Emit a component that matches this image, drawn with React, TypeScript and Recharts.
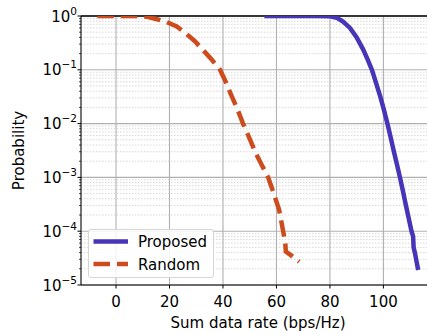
import React from 'react';
import { LineChart, Line, XAxis, YAxis, CartesianGrid, ReferenceLine, Label } from 'recharts';

// Sum data rate (bps/Hz) and CCDF probability
const proposedRate = [55.5, 75, 80, 82.5, 85, 87.5, 90, 92.4, 94, 95.7, 97.3, 98.8, 100.2, 101.5, 102.7, 103.8, 105, 106.2, 107.3, 108.3, 109.4, 110.5, 111.1, 111.3, 111.8, 113];
const proposedProb = [1, 1, 0.99, 0.93, 0.78, 0.6, 0.4, 0.24, 0.16, 0.1, 0.056, 0.032, 0.018, 0.01, 0.0056, 0.0032, 0.0018, 0.001, 0.00056, 0.00032, 0.00018, 0.0001, 0.00008, 0.00005, 0.000039, 0.000019];

const randomRate = [-7, 8, 12, 15, 19, 22.7, 26, 29.5, 33, 36, 38.9, 41, 43.3, 45.5, 47.5, 50, 52.3, 54.5, 56.9, 59, 61, 62.5, 63.3, 63.5, 66, 68.5];
const randomProb = [1, 1, 0.96, 0.88, 0.77, 0.64, 0.48, 0.34, 0.22, 0.15, 0.1, 0.06, 0.032, 0.018, 0.01, 0.0052, 0.0028, 0.0017, 0.001, 0.0005, 0.00025, 0.0001, 0.00006, 0.000042, 0.000034, 0.000027];

const xTicks = [0, 20, 40, 60, 80, 100];
const yMajor = [1e-5, 1e-4, 1e-3, 1e-2, 1e-1, 1];
const yMinor = [-5, -4, -3, -2, -1].flatMap((e) => [2, 3, 4, 5, 6, 7, 8, 9].map((m) => m * Math.pow(10, e)));

const proposedData = proposedRate.map((r, i) => ({ rate: r, p: proposedProb[i] }));
const randomData = randomRate.map((r, i) => ({ rate: r, p: randomProb[i] }));

const FONT = '"DejaVu Sans", sans-serif';
const FS = 15;
const PURPLE = '#4634b9';
const ORANGE = '#cc4c1d';

const YTick = ({ x, y, payload }: any) => {
  const v = payload.value as number;
  const lg = Math.log10(v);
  const exp = Math.round(lg);
  const major = Math.abs(lg - exp) < 1e-6;
  return (
    <g>
      <line x1={x} x2={x - (major ? 3.5 : 2)} y1={y} y2={y} stroke="#000" strokeWidth={major ? 1 : 0.7} />
      {major && (
        <text x={x - 4} y={y + 5.5} textAnchor="end" fontSize={FS} fontFamily={FONT} fill="#000">
          <tspan>10</tspan>
          <tspan dy={-7} fontSize={10.5}>{exp === 0 ? '0' : '\u2212' + Math.abs(exp)}</tspan>
        </text>
      )}
    </g>
  );
};

export default function App() {
  return (
    <div style={{ position: 'absolute', left: 0, top: 0, width: 427, height: 334, overflow: 'hidden', background: '#fff' }}>
      <LineChart width={427} height={334} margin={{ top: 16, right: 0, bottom: 0, left: 0 }}>
        <CartesianGrid horizontalValues={yMinor} vertical={false} stroke="#cfcfcf" strokeWidth={0.8} strokeDasharray="1.5 1.5" />
        <CartesianGrid horizontalValues={yMajor} verticalValues={xTicks} stroke="#b0b0b0" strokeWidth={1.1} />
        <XAxis
          dataKey="rate"
          type="number"
          domain={[-13.1, 116.3]}
          ticks={xTicks}
          allowDataOverflow
          height={49}
          tickSize={3.5}
          tickMargin={8}
          axisLine={{ stroke: '#000', strokeWidth: 1.1 }}
          tickLine={{ stroke: '#000' }}
          tick={{ fill: '#000', fontSize: FS, fontFamily: FONT }}
        >
          <Label
            content={({ viewBox }: any) => (
              <text x={viewBox.x + viewBox.width / 2 + 4} y={328} textAnchor="middle" fontSize={FS} fontFamily={FONT} fill="#000">
                Sum data rate (bps/Hz)
              </text>
            )}
          />
        </XAxis>
        <YAxis
          dataKey="p"
          type="number"
          scale="log"
          domain={[1e-5, 1]}
          ticks={[...yMajor, ...yMinor]}
          interval={0}
          allowDataOverflow
          width={81}
          tickSize={0}
          tickMargin={0}
          tickLine={false}
          axisLine={{ stroke: '#000', strokeWidth: 1.1 }}
          tick={<YTick />}
        >
          <Label
            content={({ viewBox }: any) => (
              <text
                x={24}
                y={viewBox.y + viewBox.height / 2}
                transform={`rotate(-90 24 ${viewBox.y + viewBox.height / 2})`}
                textAnchor="middle"
                fontSize={FS}
                fontFamily={FONT}
                fill="#000"
              >
                Probability
              </text>
            )}
          />
        </YAxis>
        <ReferenceLine y={1} stroke="#000" strokeWidth={1.3} />
        <Line
          data={randomData}
          dataKey="p"
          type="linear"
          stroke={ORANGE}
          strokeWidth={4.5}
          strokeDasharray="16.5 7"
          strokeLinecap="butt"
          dot={false}
          isAnimationActive={false}
        />
        <Line
          data={proposedData}
          dataKey="p"
          type="linear"
          stroke={PURPLE}
          strokeWidth={4.5}
          dot={false}
          isAnimationActive={false}
        />
      </LineChart>
      <div
        style={{
          position: 'absolute',
          left: 88,
          top: 229,
          width: 124,
          height: 47,
          border: '1px solid #d6d6d6',
          borderRadius: 3,
          background: 'rgba(255,255,255,0.85)',
        }}
      >
        <svg width={124} height={47} style={{ position: 'absolute', left: 0, top: 0 }}>
          <line x1={4.5} x2={39} y1={11.5} y2={11.5} stroke={PURPLE} strokeWidth={4.5} />
          <line x1={4.5} x2={39} y1={34} y2={34} stroke={ORANGE} strokeWidth={4.5} strokeDasharray="16.5 7" />
          <text x={49} y={17} fontSize={FS} fontFamily={FONT} fill="#000">Proposed</text>
          <text x={49} y={39.5} fontSize={FS} fontFamily={FONT} fill="#000">Random</text>
        </svg>
      </div>
    </div>
  );
}
